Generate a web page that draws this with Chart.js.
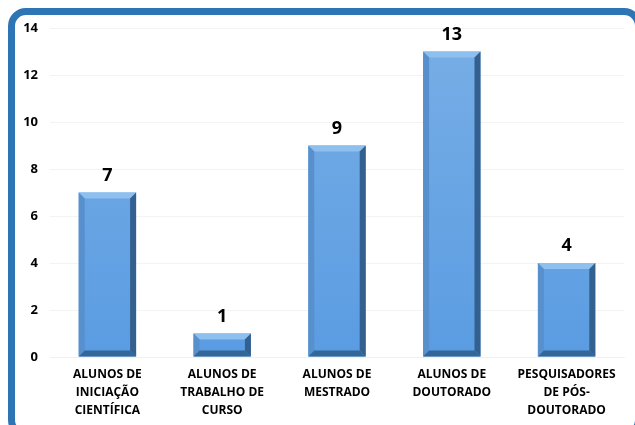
<!DOCTYPE html>
<html>
<head>
<meta charset="utf-8">
<script src="https://cdn.jsdelivr.net/npm/chart.js@4.4.1/dist/chart.umd.min.js"></script>
<style>
  html, body { margin: 0; padding: 0; background: #fff; overflow: hidden; }
  #frame {
    position: absolute; left: 8px; top: 8px; width: 620px; height: 416px;
    border: 7px solid #2e75b6; border-radius: 18px; box-sizing: content-box;
  }
  #wrap { position: absolute; left: 0; top: 0; width: 635px; height: 425px; }
</style>
</head>
<body>
<div id="frame"></div>
<div id="wrap"><canvas id="chart" width="635" height="425"></canvas></div>
<script>
// categories and values
const categories = [
    ["ALUNOS DE", "INICIAÇÃO", "CIENTÍFICA"],
    ["ALUNOS DE", "TRABALHO DE", "CURSO"],
    ["ALUNOS DE", "MESTRADO"],
    ["ALUNOS DE", "DOUTORADO"],
    ["PESQUISADORES", "DE PÓS-", "DOUTORADO"]
];
const counts = [7, 1, 9, 13, 4];
const yTicks = [0, 2, 4, 6, 8, 10, 12, 14];

const FONT = "'Open Sans', 'Noto Sans', sans-serif";

// bevelled look + value labels on top of bars
const bevelPlugin = {
    id: 'bevel',
    afterDatasetsDraw(chart) {
        const ctx = chart.ctx;
        const meta = chart.getDatasetMeta(0);
        meta.data.forEach(function(bar, i) {
            const w = bar.width;
            const l = bar.x - w / 2, r = bar.x + w / 2;
            const t = bar.y, b = bar.base;
            const d = Math.min(6, (b - t) / 2);

            ctx.save();
            // top bevel
            ctx.fillStyle = '#8ec0ef';
            ctx.beginPath();
            ctx.moveTo(l, t); ctx.lineTo(r, t); ctx.lineTo(r - d, t + d); ctx.lineTo(l + d, t + d);
            ctx.closePath(); ctx.fill();
            // left bevel
            ctx.fillStyle = '#5790cc';
            ctx.beginPath();
            ctx.moveTo(l, t); ctx.lineTo(l + d, t + d); ctx.lineTo(l + d, b - d); ctx.lineTo(l, b);
            ctx.closePath(); ctx.fill();
            // right bevel
            ctx.fillStyle = '#33608f';
            ctx.beginPath();
            ctx.moveTo(r, t); ctx.lineTo(r, b); ctx.lineTo(r - d, b - d); ctx.lineTo(r - d, t + d);
            ctx.closePath(); ctx.fill();
            // bottom bevel
            ctx.fillStyle = '#336699';
            ctx.beginPath();
            ctx.moveTo(l, b); ctx.lineTo(r, b); ctx.lineTo(r - d, b - d); ctx.lineTo(l + d, b - d);
            ctx.closePath(); ctx.fill();

            // value label
            ctx.fillStyle = '#000';
            ctx.font = "bold 18px " + FONT;
            ctx.textAlign = 'center';
            ctx.textBaseline = 'bottom';
            ctx.fillText(String(counts[i]), bar.x, t - 8);
            ctx.restore();
        });
    }
};

function barFill(context) {
    const chart = context.chart;
    const area = chart.chartArea;
    if (!area) return '#64a2e2';
    const g = chart.ctx.createLinearGradient(0, area.top, 0, area.bottom);
    g.addColorStop(0, '#78aee6');
    g.addColorStop(1, '#5a9ce2');
    return g;
}

new Chart(document.getElementById('chart').getContext('2d'), {
    type: 'bar',
    data: {
        labels: categories,
        datasets: [{
            data: counts,
            backgroundColor: barFill,
            borderWidth: 0,
            barPercentage: 0.5,
            categoryPercentage: 1.0
        }]
    },
    options: {
        responsive: false,
        animation: false,
        devicePixelRatio: 1,
        layout: { padding: { left: 0, right: 11, top: 28, bottom: 0 } },
        plugins: { legend: { display: false }, tooltip: { enabled: false } },
        scales: {
            x: {
                afterFit(axis) { axis.height = 68; },
                grid: { display: false, drawTicks: false },
                border: { display: true, color: '#f0f0f0' },
                ticks: {
                    color: '#000',
                    font: { family: FONT, weight: 'bold', size: 12, lineHeight: 1.5 },
                    maxRotation: 0,
                    autoSkip: false,
                    padding: 9
                }
            },
            y: {
                min: 0,
                max: 14,
                afterFit(axis) { axis.width = 50; },
                afterBuildTicks(axis) { axis.ticks = yTicks.map(v => ({ value: v })); },
                grid: { color: '#f3f3f3', drawTicks: false },
                border: { display: false },
                ticks: {
                    color: '#000',
                    font: { family: FONT, weight: 'bold', size: 13 },
                    padding: 12
                }
            }
        }
    },
    plugins: [bevelPlugin]
});
</script>
</body>
</html>
